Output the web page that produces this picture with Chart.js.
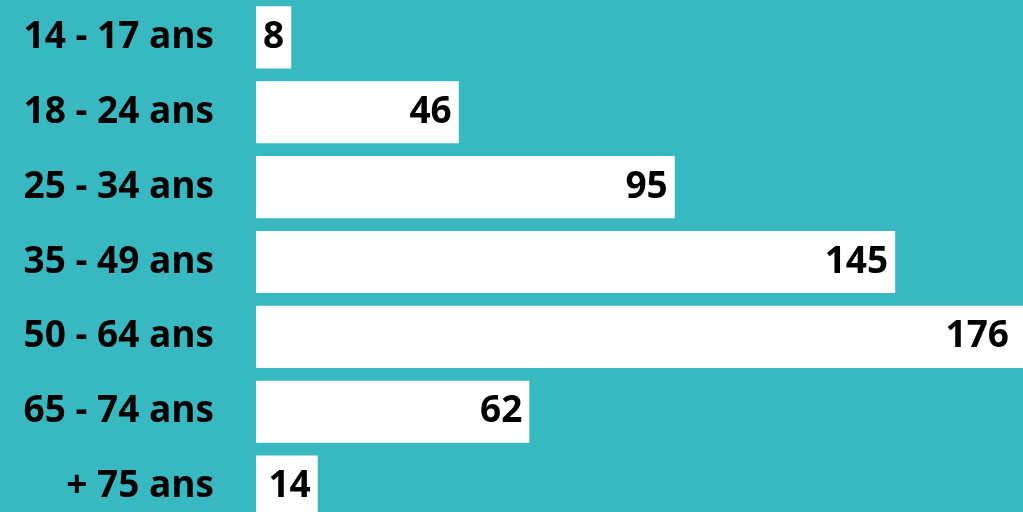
<!DOCTYPE html>
<html>
<head>
<meta charset="utf-8">
<script src="https://cdn.jsdelivr.net/npm/chart.js@4/dist/chart.umd.min.js"></script>
<style>
  html, body { margin: 0; padding: 0; background: #38b9c2; overflow: hidden; }
  #wrap { position: relative; width: 1023px; height: 524px; }
</style>
</head>
<body>
<div id="wrap"><canvas id="age-chart"></canvas></div>
<script>
const ageGroups = ["14 - 17 ans", "18 - 24 ans", "25 - 34 ans", "35 - 49 ans", "50 - 64 ans", "65 - 74 ans", "+ 75 ans"];
const counts = [8, 46, 95, 145, 176, 62, 14];

const fontFamily = "'Open Sans', 'Noto Sans', sans-serif";

// write the value at the end of each bar, inside it
const valueLabels = {
  id: "valueLabels",
  afterDatasetsDraw(chart) {
    const ctx = chart.ctx;
    const area = chart.chartArea;
    const meta = chart.getDatasetMeta(0);
    ctx.save();
    ctx.font = "bold 37px " + fontFamily;
    ctx.fillStyle = "#000";
    ctx.textAlign = "right";
    ctx.textBaseline = "middle";
    meta.data.forEach((bar, i) => {
      const x = Math.min(bar.x, area.right - 7) - 7;
      ctx.fillText(String(counts[i]), x, bar.y);
    });
    ctx.restore();
  },
};

new Chart(document.getElementById("age-chart"), {
  type: "bar",
  data: {
    labels: ageGroups,
    datasets: [
      {
        data: counts,
        backgroundColor: "#ffffff",
        borderWidth: 0,
        categoryPercentage: 1,
        barPercentage: 0.83,
      },
    ],
  },
  options: {
    indexAxis: "y",
    responsive: true,
    maintainAspectRatio: false,
    animation: false,
    layout: { padding: 0 },
    plugins: {
      legend: { display: false },
      tooltip: { enabled: false },
    },
    scales: {
      x: {
        display: false,
        min: 0,
        max: 174,
      },
      y: {
        grid: { display: false, drawTicks: false },
        border: { display: false },
        ticks: {
          color: "#000",
          padding: 42,
          font: { family: fontFamily, size: 37, weight: "bold" },
        },
        afterFit(scale) {
          scale.width = 256;
          scale.paddingTop = 0;
          scale.paddingBottom = 0;
        },
      },
    },
  },
  plugins: [valueLabels],
});
</script>
</body>
</html>
